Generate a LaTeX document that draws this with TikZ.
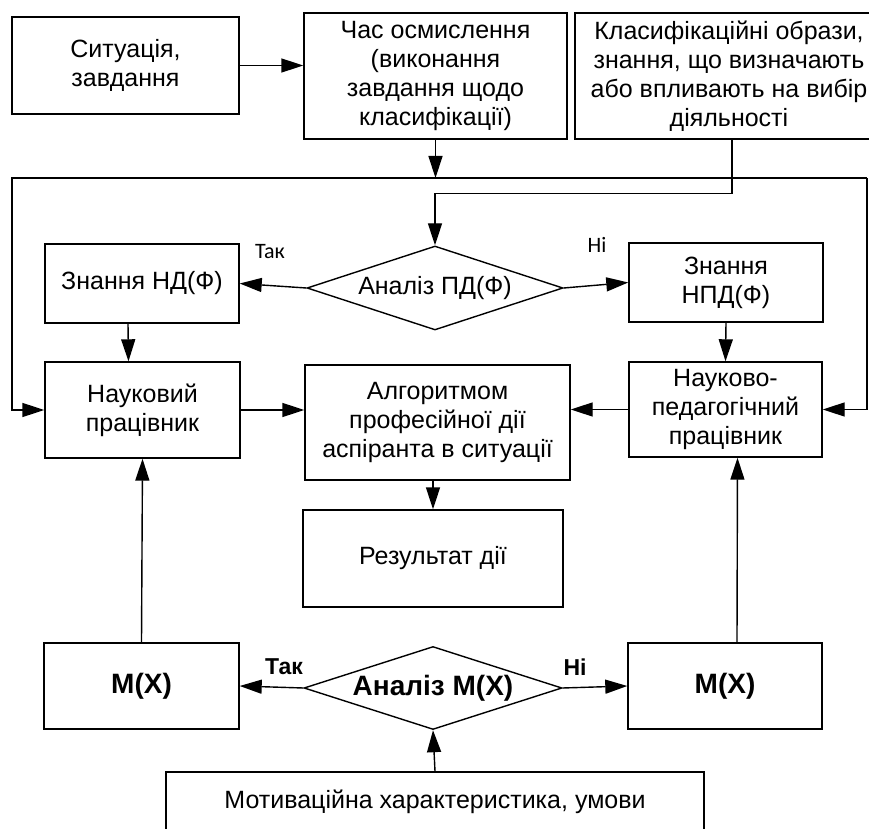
\documentclass[tikz,border=0pt]{standalone}
\usepackage{fontspec}
\setmainfont{Liberation Sans}
\newfontfamily\calfont{Carlito}
\usetikzlibrary{shapes.geometric, arrows.meta}

\begin{document}
\begin{tikzpicture}[
        x=0.5pt, y=-0.5pt,
        every node/.style={font=\fontsize{12.5}{14.5}\selectfont},
        box/.style={rectangle, draw, line width=0.7pt, align=center, inner sep=2pt},
        decide/.style={diamond, draw, line width=0.7pt, aspect=3, inner sep=0pt, minimum width=128pt, minimum height=42pt},
        arrow/.style={-{Triangle[length=11pt, width=7pt]}, line width=0.7pt},
        answer/.style={font=\calfont\fontsize{11}{13}\selectfont},
        boldanswer/.style={font=\bfseries\fontsize{11.5}{13}\selectfont}
    ]
        \useasboundingbox (0,0) rectangle (869,829);
        \clip (0,0) rectangle (869,829);

        % top row
        \node[box, minimum width=113.5pt, minimum height=48.5pt] (sit) at (125.5,65.5) {Ситуація,\\ завдання};
        \node[box, minimum width=131.5pt, minimum height=63pt] (chas) at (435.5,76) {Час осмислення\\ (виконання\\ завдання щодо\\ класифікації)};
        \node[box, minimum width=154pt, minimum height=63pt, inner sep=0pt] (klas) at (729,76) {Класифікаційні образи,\\ знання, що визначають\\ або впливають на вибір\\ діяльності};

        % first analysis
        \node[decide] (anpd) at (435,288) {Аналіз ПД(Ф)};
        \node[box, minimum width=97pt, minimum height=39.5pt] (znd) at (142,283.5) {Знання НД(Ф)};
        \node[box, minimum width=97pt, minimum height=39.5pt] (znpd) at (726,282.5) {Знання\\ НПД(Ф)};
        \node[answer] (tak) at (270,252) {Так};
        \node[answer] (ni) at (597,245) {Ні};

        % middle row
        \node[box, minimum width=97.5pt, minimum height=48pt] (nauk) at (142.5,410) {Науковий\\ працівник};
        \node[box, minimum width=132.5pt, minimum height=57.5pt] (alg) at (437.5,422.5) {Алгоритмом\\ професійної дії\\ аспіранта в ситуації};
        \node[box, minimum width=96.5pt, minimum height=47.5pt] (nped) at (725.5,409.5) {Науково-\\ педагогічний\\ працівник};
        \node[box, minimum width=130pt, minimum height=48.5pt] (res) at (433,558.5) {Результат дії};

        % second analysis
        \node[decide, minimum width=129pt, minimum height=41.5pt, font=\bfseries\fontsize{14}{16}\selectfont] (amx) at (433,688) {Аналіз М(X)};
        \node[box, minimum width=97.5pt, minimum height=43pt, font=\bfseries\fontsize{14}{16}\selectfont] (mxl) at (141.5,686) {М(X)};
        \node[box, minimum width=97pt, minimum height=43pt, font=\bfseries\fontsize{14}{16}\selectfont] (mxr) at (725,686) {М(X)};
        \node[boldanswer] (tak2) at (284,667) {Так};
        \node[boldanswer] (ni2) at (575,667) {Ні};
        \node[box, minimum width=269pt, minimum height=30pt] (motiv) at (435,802) {Мотиваційна характеристика, умови};

        % feedback loop
        \coordinate (loopl) at (12,178);
        \coordinate (loopr) at (867,178);

        \draw[arrow] (sit.east) -- (sit.east -| chas.west);
        \draw[arrow] (chas.south) -- (chas.south |- loopl);
        \draw[arrow] (loopr) -- (loopl) |- (nauk.west);
        \draw[arrow] (loopr) |- (nped.east);
        \draw[arrow] ([xshift=1.5pt]klas.south) -- ++(0,54) -| (anpd.north);

        \draw[arrow] (anpd.west) -- (znd.east);
        \draw[arrow] (anpd.east) -- (znpd.west);
        \draw[arrow] ([xshift=-7pt]znd.south) -- ([xshift=-7pt]nauk.north);
        \draw[arrow] (znpd.south) -- (nped.north);

        \draw[arrow] (nauk.east) -- (nauk.east -| alg.west);
        \draw[arrow] (nped.west) -- (nped.west -| alg.east);
        \draw[arrow] (res.north |- alg.south) -- (res.north);

        \draw[arrow] (amx.west) -- (mxl.east);
        \draw[arrow] (amx.east) -- (mxr.west);
        \draw[arrow] (mxl.north) -- (nauk.south);
        \draw[arrow] ([xshift=6pt]mxr.north) -- ([xshift=6pt]nped.south);
        \draw[arrow] (motiv.north) -- (amx.south);
    \end{tikzpicture}
\end{document}
